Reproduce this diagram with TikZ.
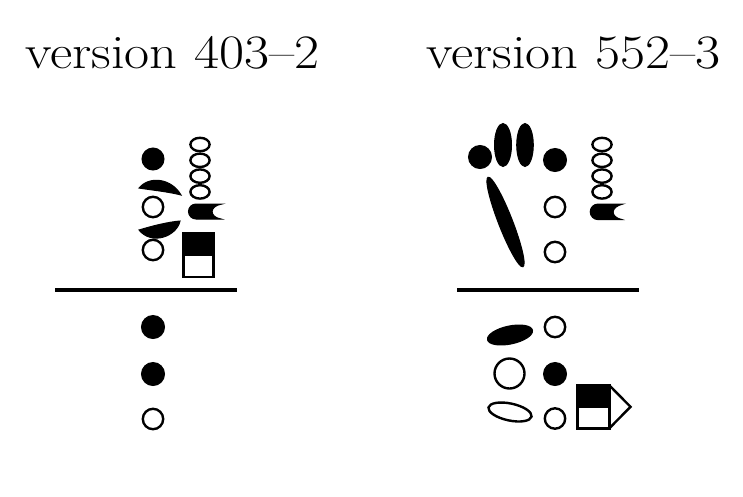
\documentclass[tikz,border=0pt]{standalone}
\usepackage{fontspec}
\begin{document}
\begin{tikzpicture}[x=1pt,y=-1pt,
  blk/.style={fill=black,draw=black,line width=1pt},
  opn/.style={fill=white,draw=black,line width=2.4pt},
  bar/.style={draw=black,line width=4.5pt},
  ttl/.style={inner sep=0pt,anchor=base west,font=\fontsize{48}{50}\selectfont}]
\useasboundingbox (0,0) rectangle (743,496);
% titles
\node[ttl] (t1) at (25,68) {\scalebox{1.135}[1]{version 403--2}};
\node[ttl] (t2) at (426,68) {\scalebox{1.135}[1]{version 552--3}};
% ---------- left ----------
\fill[blk] (153,159) circle[radius=11pt];
\fill[blk] (139,188) .. controls (150,175) and (172,179) .. (181,195) .. controls (165,191) and (150,190) .. cycle;
\draw[opn] (153,207) circle[radius=10.2pt];
\fill[blk] (139,230) .. controls (152,226) and (168,222) .. (180,221) .. controls (177,236) and (152,246) .. cycle;
\draw[opn] (153,250) circle[radius=10.2pt];
\foreach \yy in {144.5,160.3,176.1,191.9}
  \draw[opn] (200,\yy) ellipse[x radius=9.6pt, y radius=6.7pt];
\fill[blk] (222,204) -- (196,204) arc[start angle=90,end angle=270,radius=7.5pt] -- (221,219) .. controls (209,217) and (209,206) .. cycle;
\fill[black] (183.3,233.3) rectangle (213.3,255);
\draw[opn,fill=none] (183.3,233.3) rectangle (213.3,276.7);
\draw[opn,fill=none] (183.3,255) -- (213.3,255);
\draw[bar] (55,290) -- (237,290);
\fill[blk] (153,327) circle[radius=11.5pt];
\fill[blk] (153,374) circle[radius=11.5pt];
\draw[opn] (153,419) circle[radius=10.2pt];
% ---------- right ----------
\fill[blk] (480,157) circle[radius=11.5pt];
\fill[blk] (503,145) ellipse[x radius=8.5pt, y radius=21.5pt];
\fill[blk] (525,145) ellipse[x radius=8.3pt, y radius=21.5pt];
\fill[blk] (555,160) circle[radius=11.5pt];
\fill[blk,rotate around={-68.7:(505.5,222)}] (505.5,222) ellipse[x radius=48pt, y radius=7pt];
\draw[opn] (555,207) circle[radius=10.2pt];
\draw[opn] (555,252) circle[radius=10.2pt];
\foreach \yy in {144.5,160.3,176.1,191.9}
  \draw[opn] (602,\yy) ellipse[x radius=9.6pt, y radius=6.7pt];
\fill[blk] (623,204) -- (598,204) arc[start angle=90,end angle=270,radius=7.8pt] -- (622,219.6) .. controls (610,217) and (610,207) .. cycle;
\draw[bar] (457,290) -- (639,290);
\fill[blk,rotate around={12:(510,335)}] (510,335) ellipse[x radius=23pt, y radius=9pt];
\draw[opn] (555,327) circle[radius=10.2pt];
\draw[opn] (509.5,373.5) circle[radius=15pt];
\fill[blk] (555,374) circle[radius=11.5pt];
\draw[opn,rotate around={-12:(510,412)}] (510,412) ellipse[x radius=22pt, y radius=8.5pt];
\draw[opn] (555,418.5) circle[radius=10.2pt];
\fill[black] (577.3,385.3) rectangle (609.3,407);
\draw[opn,fill=none] (577.3,385.3) rectangle (609.3,428.3);
\draw[opn,fill=none] (577.3,407) -- (609.3,407);
\draw[opn,fill=none,line join=miter] (609.3,385.3) -- (630.5,406.8) -- (609.3,428.3);
\end{tikzpicture}
\end{document}
